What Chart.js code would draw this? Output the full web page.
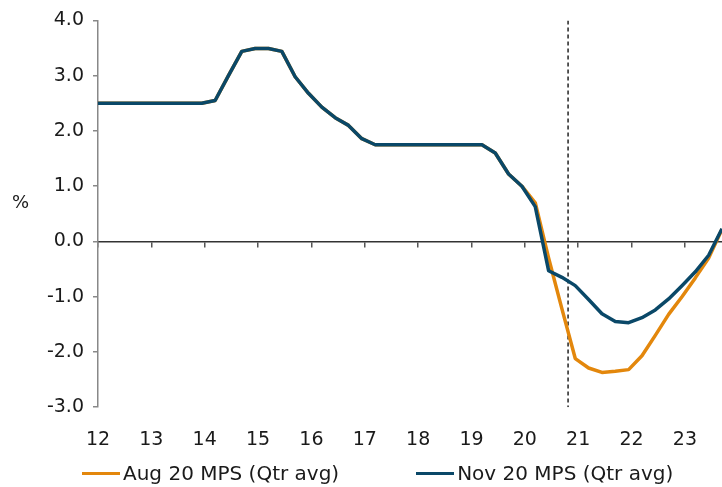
<!DOCTYPE html>
<html lang="en">
<head>
  <meta charset="UTF-8">
  <title>Aug 20 vs Nov 20 MPS</title>
  <script src="https://cdn.jsdelivr.net/npm/chart.js"></script>
  <style>
    body { margin: 0; background: #fff; font-family: 'DejaVu Sans', Verdana, sans-serif; color: #1a1a1a; }
    #wrap { position: relative; width: 722px; height: 487px; }
    #unit { position: absolute; left: 12px; top: 191px; font-size: 18px; }
    #legend { position: absolute; left: 82px; top: 461px; display: flex; font-size: 20px; line-height: 24px; white-space: nowrap; }
    .item { display: flex; align-items: center; margin-right: 77px; }
    .swatch { width: 38px; height: 3px; margin-right: 3px; }
  </style>
</head>
<body>
<div id="wrap">
  <canvas id="chart" width="722" height="487"></canvas>
  <div id="unit">%</div>
  <div id="legend"></div>
</div>
<script>
  // quarters 2011 Q4 .. 2023 Q3
  const quarters = [];
  for (let y = 2011; y <= 2023; y++) {
    for (let q = 1; q <= 4; q++) {
      if ((y === 2011 && q < 4) || (y === 2023 && q > 3)) continue;
      quarters.push(`${y}Q${q}`);
    }
  }
  const pointOffset = 0.195; // where Excel put each quarter inside the year
  const yearTicks = [12, 13, 14, 15, 16, 17, 18, 19, 20, 21, 22, 23];
  const forecastStart = 20.81;

  const seriesNames = ['Aug 20 MPS (Qtr avg)', 'Nov 20 MPS (Qtr avg)'];
  const seriesColors = ['#e3870c', '#0a4868'];

  const aug20 = [
    2.5,
    2.5, 2.5, 2.5, 2.5, 2.5, 2.5, 2.5, 2.5,
    2.55, 3.0, 3.44, 3.49, 3.49, 3.44, 2.98, 2.68,
    2.43, 2.24, 2.1, 1.86, 1.75, 1.75, 1.75, 1.75,
    1.75, 1.75, 1.75, 1.75, 1.75, 1.6, 1.22, 1.0,
    0.7, -0.3, -1.22, -2.12, -2.29, -2.37, -2.35, -2.32,
    -2.07, -1.7, -1.32, -1.0, -0.66, -0.3, 0.22
  ];
  const nov20 = [
    2.5,
    2.5, 2.5, 2.5, 2.5, 2.5, 2.5, 2.5, 2.5,
    2.55, 3.0, 3.44, 3.49, 3.49, 3.44, 2.98, 2.68,
    2.43, 2.24, 2.1, 1.86, 1.75, 1.75, 1.75, 1.75,
    1.75, 1.75, 1.75, 1.75, 1.75, 1.6, 1.22, 1.0,
    0.63, -0.53, -0.65, -0.8, -1.05, -1.31, -1.45, -1.47,
    -1.38, -1.24, -1.04, -0.8, -0.55, -0.25, 0.23
  ];

  function qPos(label) {
    const y = parseInt(label.slice(0, 4), 10) - 2000;
    const q = parseInt(label.slice(5), 10);
    return y + (q - 1) / 4 + pointOffset;
  }
  const toPoints = vals => quarters.map((l, i) => ({ x: qPos(l), y: vals[i] }));

  const xMin = yearTicks[0];
  const xMax = qPos(quarters[quarters.length - 1]);

  Chart.defaults.font.family = "'DejaVu Sans', Verdana, sans-serif";
  Chart.defaults.font.size = 19;
  Chart.defaults.color = '#1a1a1a';

  new Chart(document.getElementById('chart'), {
    type: 'line',
    data: {
      datasets: [
        { label: seriesNames[0], data: toPoints(aug20), borderColor: seriesColors[0], borderWidth: 3.5, order: 1 },
        { label: seriesNames[1], data: toPoints(nov20), borderColor: seriesColors[1], borderWidth: 3.5, order: 0 },
        {
          label: 'forecast', data: [{ x: forecastStart, y: 4 }, { x: forecastStart, y: -3 }],
          borderColor: '#222', borderWidth: 1.5, borderDash: [4, 3], order: 2
        }
      ]
    },
    options: {
      responsive: false,
      animation: false,
      layout: { padding: { top: 20, bottom: 15, left: 0, right: 0 } },
      elements: { point: { radius: 0 }, line: { tension: 0, borderJoinStyle: 'round' } },
      datasets: { line: { clip: 0 } },
      plugins: { legend: { display: false }, tooltip: { enabled: false } },
      scales: {
        x: {
          type: 'linear', min: xMin, max: xMax, position: 'bottom',
          border: { display: false },
          grid: { display: false, drawTicks: false },
          ticks: { stepSize: 1, includeBounds: false, padding: 21, maxRotation: 0, autoSkip: false,
                   callback: v => yearTicks.includes(v) ? String(v) : '' }
        },
        x0: {
          type: 'linear', min: xMin, max: xMax, position: { y: 0 },
          border: { color: '#333', width: 1.5 },
          grid: { drawOnChartArea: false, drawTicks: true, tickLength: 5, color: '#555', lineWidth: 1.5 },
          ticks: { display: false, stepSize: 1, includeBounds: false }
        },
        y: {
          min: -3, max: 4,
          border: { color: '#888', width: 1.5 },
          grid: { drawOnChartArea: false, tickLength: 5, color: '#888', lineWidth: 1.5 },
          ticks: { stepSize: 1, padding: 9, callback: v => v.toFixed(1) },
          afterFit: s => { s.width = 98; }
        }
      }
    }
  });

  const legend = document.getElementById('legend');
  seriesNames.forEach((name, i) => {
    const item = document.createElement('div');
    item.className = 'item';
    const sw = document.createElement('span');
    sw.className = 'swatch';
    sw.style.background = seriesColors[i];
    const txt = document.createElement('span');
    txt.textContent = name;
    item.appendChild(sw);
    item.appendChild(txt);
    legend.appendChild(item);
  });
</script>
</body>
</html>
